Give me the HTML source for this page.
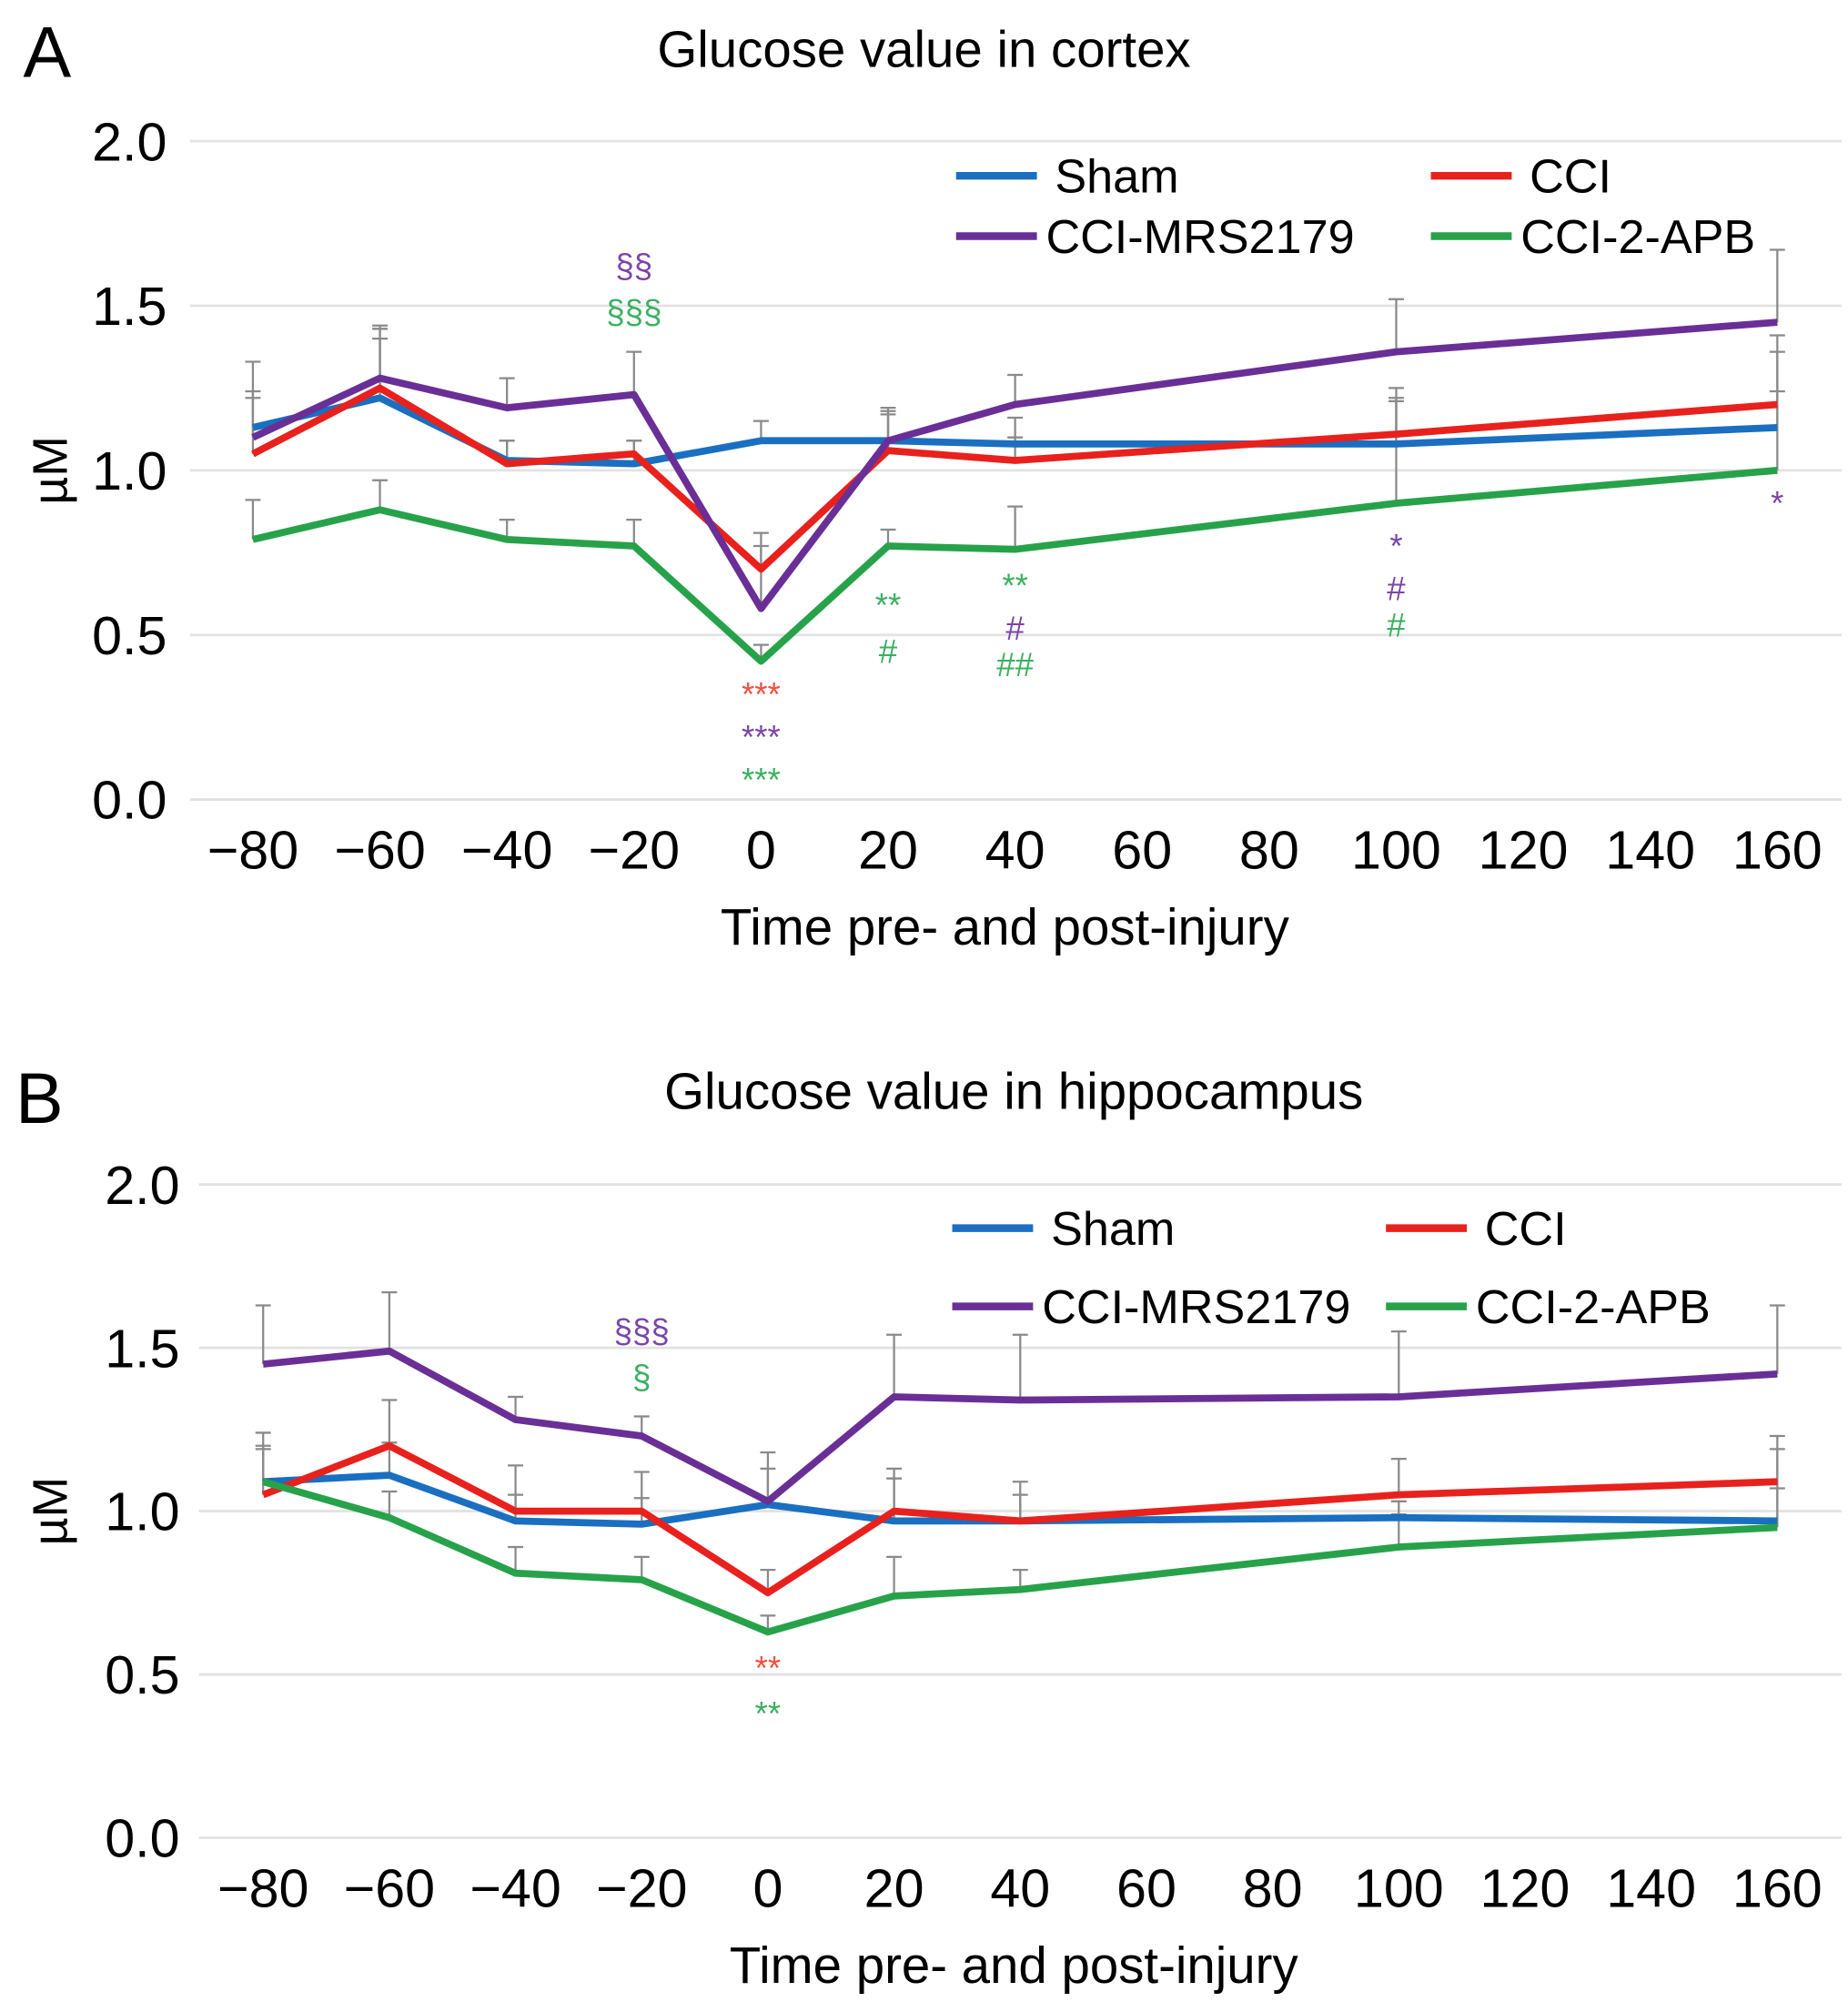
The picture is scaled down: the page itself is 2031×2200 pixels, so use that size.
<!DOCTYPE html>
<html><head><meta charset="utf-8"><style>
html,body{margin:0;padding:0;background:#fff}
svg{display:block}
text{font-family:"Liberation Sans",Arial,sans-serif}
</style></head><body>
<svg id="fig" width="2031" height="2200" viewBox="0 0 1440 1560" xmlns="http://www.w3.org/2000/svg"></svg>
<script>
const times=[-80,-60,-40,-20,0,20,40,100,160];
const xTicks=[-80,-60,-40,-20,0,20,40,60,80,100,120,140,160];
const yTicks=[0,0.5,1.0,1.5,2.0];
const seriesNames=['Sham','CCI','CCI-MRS2179','CCI-2-APB'];
const colors=['#1a6fc0','#e8211d','#6a2f96','#27a24a'];
// Panel A (cortex)
const aSham=[1.13,1.22,1.03,1.02,1.09,1.09,1.08,1.08,1.13];
const aCCI=[1.05,1.25,1.02,1.05,0.70,1.06,1.03,1.11,1.20];
const aMRS=[1.10,1.28,1.19,1.23,0.58,1.09,1.20,1.36,1.45];
const aAPB=[0.79,0.88,0.79,0.77,0.42,0.77,0.76,0.90,1.00];
const aShamErr=[1.22,1.43,1.09,1.09,1.15,1.18,1.10,1.21,1.36];
const aCCIErr=[1.24,1.44,1.09,1.09,0.81,1.17,1.16,1.25,1.41];
const aMRSErr=[1.33,1.40,1.28,1.36,0.77,1.19,1.29,1.52,1.67];
const aAPBErr=[0.91,0.97,0.85,0.85,0.47,0.82,0.89,1.22,1.24];
// Panel B (hippocampus)
const bSham=[1.09,1.11,0.97,0.96,1.02,0.97,0.97,0.98,0.97];
const bCCI=[1.05,1.20,1.00,1.00,0.75,1.00,0.97,1.05,1.09];
const bMRS=[1.45,1.49,1.28,1.23,1.03,1.35,1.34,1.35,1.42];
const bAPB=[1.09,0.98,0.81,0.79,0.63,0.74,0.76,0.89,0.95];
const bShamErr=[1.20,1.21,1.05,1.04,1.13,1.10,1.05,1.03,1.07];
const bCCIErr=[1.19,1.34,1.14,1.12,0.82,1.13,1.09,1.16,1.23];
const bMRSErr=[1.63,1.67,1.35,1.29,1.18,1.54,1.54,1.55,1.63];
const bAPBErr=[1.24,1.06,0.89,0.86,0.68,0.86,0.82,0.99,1.19];
// annotations: [time, value, text, colorIndex]
const aNotes=[[-20,1.62,'§§',2],[-20,1.48,'§§§',3],[0,0.32,'***',1],[0,0.19,'***',2],[0,0.06,'***',3],
 [20,0.59,'**',3],[20,0.45,'#',3],[40,0.65,'**',3],[40,0.52,'#',2],[40,0.41,'##',3],
 [100,0.77,'*',2],[100,0.64,'#',2],[100,0.53,'#',3],[160,0.90,'*',2]];
const bNotes=[[-20,1.55,'§§§',2],[-20,1.41,'§',3],[0,0.52,'**',1],[0,0.38,'**',3]];
const noteColors=['#1a6fc0','#f05040','#7a45aa','#3bb060'];

const NS='http://www.w3.org/2000/svg';
const svg=document.getElementById('fig');
function el(tag,attrs,parent){const e=document.createElementNS(NS,tag);for(const k in attrs)e.setAttribute(k,attrs[k]);(parent||svg).appendChild(e);return e;}

function panel(cfg){
  const g=el('g',{});
  
  
  const xs=t=>cfg.x0+(t+80)/240*(cfg.x1-cfg.x0);
  const ys=v=>cfg.y0-v/2*(cfg.y0-cfg.y2);
  const L=el('text',{x:cfg.letterX,y:cfg.letterY,'font-size':56},g);L.textContent=cfg.letter;
  
  const T=el('text',{x:cfg.titleX,y:cfg.titleY,'font-size':40,'text-anchor':'middle'},g);T.textContent=cfg.title;
  
  yTicks.forEach(v=>{
    const ln=el('line',{x1:cfg.gx0,x2:1435,y1:ys(v),y2:ys(v),stroke:'#e2e2e2','stroke-width':2},g);
    
    const t=el('text',{x:cfg.yLabX,y:ys(v)+15,'font-size':42,'text-anchor':'end'},g);t.textContent=v.toFixed(1);
    
  });
  xTicks.forEach(v=>{
    const t=el('text',{x:xs(v),y:ys(0)+54,'font-size':42,'text-anchor':'middle'},g);t.textContent=v<0?'\u2212'+(-v):String(v);
    
  });
  const yt=el('text',{x:0,y:0,'font-size':38,'text-anchor':'middle',transform:`translate(${cfg.yTitleX},${ys(1)}) rotate(-90)`},g);yt.textContent='\u00b5M';
  
  const xt=el('text',{x:cfg.xTitleX,y:ys(0)+113,'font-size':40,'text-anchor':'middle'},g);xt.textContent='Time pre- and post-injury';
  
  cfg.series.forEach((s,i)=>{
    s.forEach((v,j)=>{
      const x=xs(times[j]),yv=ys(v),ye=ys(cfg.errs[i][j]);
      const e=el('path',{d:`M${x},${yv}V${ye}M${x-6},${ye}H${x+6}`,stroke:'#8a8a8a','stroke-width':1.6,fill:'none'},g);
      
    });
  });
  cfg.series.forEach((s,i)=>{
    const d=s.map((v,j)=>(j?'L':'M')+xs(times[j])+','+ys(v)).join('');
    const p=el('path',{d:d,stroke:colors[i],'stroke-width':5.5,fill:'none','stroke-linejoin':'round'},g);
    
    
  });
  cfg.notes.forEach(n=>{
    const t=el('text',{x:xs(n[0]),y:ys(n[1]),'font-size':26,'text-anchor':'middle','dominant-baseline':'central',fill:noteColors[n[3]]},g);t.textContent=n[2];
    
  });
  cfg.legend.forEach((lg,i)=>{
    const ln=el('line',{x1:lg[0],x2:lg[0]+63,y1:lg[1],y2:lg[1],stroke:colors[i],'stroke-width':6},g);
    
    const t=el('text',{x:lg[0]+(i===2||i===3?70:77),y:lg[1]+13,'font-size':37},g);t.textContent=seriesNames[i];
    
  });
}
panel({id:'panel-a-cortex',letter:'A',letterX:18,letterY:60,title:'Glucose value in cortex',titleX:720,titleY:52,
  x0:197,x1:1385,y0:623,y2:110,gx0:148,yLabX:130,yTitleX:52,xTitleX:783,
  series:[aSham,aCCI,aMRS,aAPB],errs:[aShamErr,aCCIErr,aMRSErr,aAPBErr],notes:aNotes,
  legend:[[745,137],[1115,137],[745,184],[1115,184]]});
panel({id:'panel-b-hippocampus',letter:'B',letterX:12,letterY:875,title:'Glucose value in hippocampus',titleX:790,titleY:864,
  x0:205,x1:1385,y0:1432,y2:923,gx0:155,yLabX:140,yTitleX:52,xTitleX:790,
  series:[bSham,bCCI,bMRS,bAPB],errs:[bShamErr,bCCIErr,bMRSErr,bAPBErr],notes:bNotes,
  legend:[[742,957],[1080,957],[742,1018],[1080,1018]]});
</script>
</body></html>
